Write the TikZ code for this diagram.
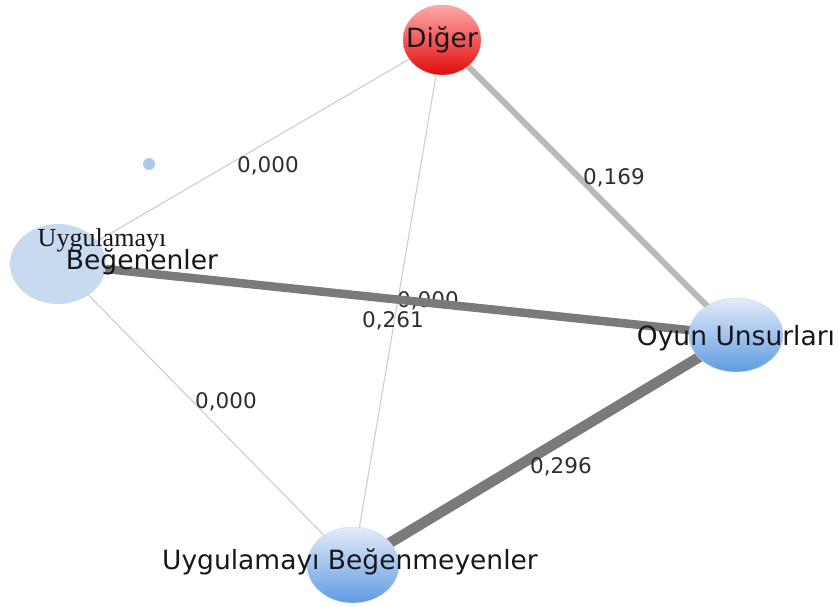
\documentclass[tikz,border=0pt]{standalone}
\usepackage{fontspec}
\setmainfont{DejaVu Sans}
\newfontfamily\serifface{Liberation Serif}
\usetikzlibrary{shapes.geometric}
\definecolor{thinedge}{RGB}{205,205,205}
\definecolor{midedge}{RGB}{185,185,185}
\definecolor{darkedge}{RGB}{122,122,122}
\definecolor{palefill}{RGB}{200,218,240}
\definecolor{dotfill}{RGB}{172,200,235}
\definecolor{bluetop}{RGB}{228,236,250}
\definecolor{bluebot}{RGB}{95,155,225}
\definecolor{redtop}{RGB}{255,170,170}
\definecolor{redbot}{RGB}{225,10,10}
\definecolor{ink}{RGB}{22,22,28}
\tikzset{
  edgethin/.style={draw=thinedge, line width=1.1pt},
  edgemid/.style={draw=midedge, line width=6pt},
  edgedark/.style={draw=darkedge, line width=8.5pt},
  weight/.style={font=\fontsize{21.5}{23}\selectfont, text=ink!90, inner sep=1pt},
  bluenode/.style={ellipse, inner sep=0pt, top color=bluetop, bottom color=bluebot, draw=bluebot!40},
  rednode/.style={ellipse, inner sep=0pt, top color=redtop, bottom color=redbot, draw=redbot!40},
  nodetext/.style={font=\fontsize{26.5}{28}\selectfont, text=ink, inner sep=0pt},
}
\begin{document}
\begin{tikzpicture}[x=1pt, y=-1pt]
  \useasboundingbox (0,0) rectangle (838,606);
  % node centres
  \coordinate (dig) at (442,40);
  \coordinate (beg) at (58,264);
  \coordinate (oyun) at (736,335);
  \coordinate (bmy) at (353,565);

  % weak links
  \draw[edgethin] (dig) -- (beg);
  \draw[edgethin] (dig) -- (bmy);
  \draw[edgethin] (beg) -- (bmy);
  \node[weight] (w1) at (268,166) {0,000};
  \node[weight] (w2) at (428,301) {0,000};
  \node[weight] (w3) at (226,402) {0,000};
  % strong links
  \draw[edgemid] (dig) -- (oyun);
  \draw[edgedark] (beg) -- (oyun);
  \draw[edgedark, line width=10.5pt] (oyun) -- (bmy);
  \node[weight] (w4) at (614,178) {0,169};
  \node[weight] (w5) at (393,321) {0,261};
  \node[weight] (w6) at (561,467) {0,296};

  % nodes
  \node[ellipse, fill=palefill, minimum width=96pt, minimum height=80pt] (beg-n) at (beg) {};
  \node[circle, fill=dotfill, minimum size=12pt, inner sep=0pt] (dot) at (149,164) {};
  \node[rednode, minimum width=78pt, minimum height=70pt] (dig-n) at (dig) {};
  \node[bluenode, minimum width=94pt, minimum height=74pt] (oyun-n) at (oyun) {};
  \node[bluenode, minimum width=92pt, minimum height=76pt] (bmy-n) at (bmy) {};

  % node labels
  \node[nodetext] (dig-t) at (442,40) {Diğer};
  \node[nodetext] (oyun-t) at (736,338) {Oyun Unsurları};
  \node[nodetext] (bmy-t) at (350,562) {Uygulamayı Beğenmeyenler};
  \node[nodetext, font=\serifface\fontsize{26}{28}\selectfont] (beg-t1) at (102,240) {Uygulamayı};
  \node[nodetext] (beg-t2) at (142,262) {Beğenenler};
\end{tikzpicture}
\end{document}
